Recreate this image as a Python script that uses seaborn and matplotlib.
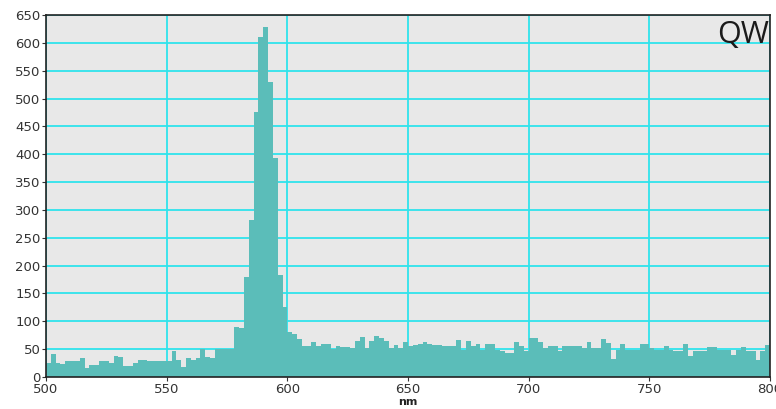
import numpy as np
import pandas as pd
import matplotlib
matplotlib.use("Agg")
import matplotlib.pyplot as plt
import seaborn as sns

# 2 nm bins starting at 500 nm
bin_start = np.arange(500, 800, 2)
counts = [
    26, 42, 26, 24, 28, 28, 28, 34, 16, 22,
    22, 28, 28, 26, 38, 36, 20, 20, 26, 30,
    30, 29, 28, 28, 28, 28, 46, 30, 18, 34,
    31, 35, 50, 36, 34, 50, 50, 50, 50, 90,
    88, 180, 282, 476, 610, 628, 530, 393, 183, 126,
    81, 78, 68, 56, 56, 62, 56, 60, 60, 50,
    55, 54, 53, 52, 64, 71, 52, 64, 74, 70,
    64, 52, 58, 52, 62, 56, 58, 60, 62, 59,
    58, 58, 56, 55, 55, 66, 48, 64, 56, 60,
    49, 59, 59, 49, 47, 44, 44, 62, 55, 47,
    70, 70, 62, 52, 55, 56, 46, 55, 55, 56,
    56, 52, 62, 52, 52, 68, 61, 32, 49, 59,
    49, 49, 49, 59, 59, 52, 49, 49, 56, 49,
    46, 46, 59, 37, 46, 46, 47, 53, 53, 49,
    49, 49, 40, 49, 53, 46, 46, 31, 46, 58,
]
x_ticks = [500, 550, 600, 650, 700, 750, 800]
y_ticks = list(range(0, 651, 50))
x_label = "nm"
corner_label = "QW"

df = pd.DataFrame({"nm": bin_start + 1.0, "count": np.array(counts, dtype=float)})

fig = plt.figure(figsize=(7.76, 4.09), dpi=100)
ax = fig.add_axes([0.0593, 0.0782, 0.9330, 0.8851])
ax.set_facecolor("#e8e8e8")
ax.set_axisbelow(True)
ax.grid(True, color="#2fe3ec", linewidth=1.3)

sns.histplot(data=df, x="nm", weights="count", binwidth=2, binrange=(500, 800),
             color="#5bbdb9", alpha=1, linewidth=0, edgecolor="none",
             element="bars", ax=ax)

ax.set_xlim(500, 800)
ax.set_ylim(0, 650)
ax.set_xticks(x_ticks)
ax.set_yticks(y_ticks)
ax.set_xlabel(x_label, fontsize=8, fontweight="bold", color="#222222", labelpad=1)
ax.set_ylabel("")
ax.tick_params(axis="both", labelsize=9.5, colors="#333333", length=3, width=0.8, pad=1)
for s in ax.spines.values():
    s.set_color("#222222")
    s.set_linewidth(1.2)

ax.text(0.998, 0.985, corner_label, transform=ax.transAxes, ha="right", va="top",
        fontsize=22, color="#1a1a1a", family="Open Sans")

fig.savefig("out.png", dpi=100)
